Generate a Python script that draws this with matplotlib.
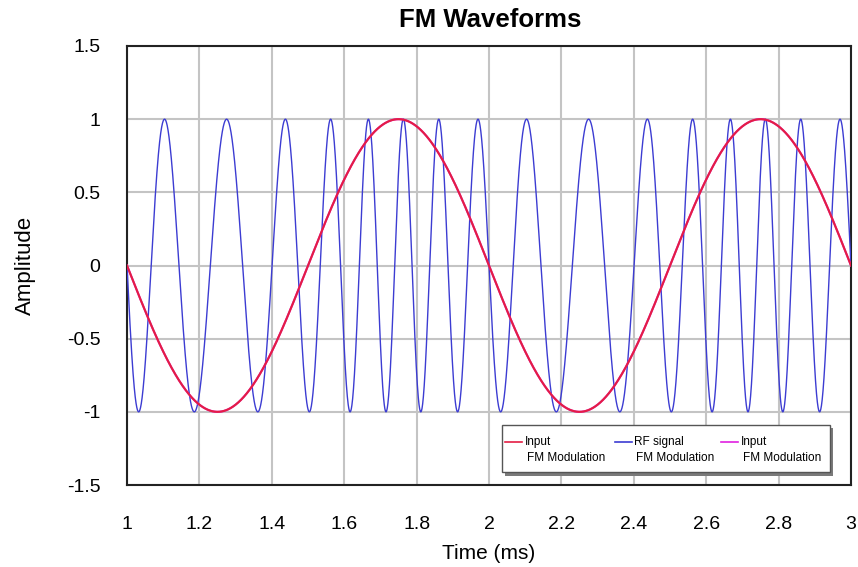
import numpy as np
import matplotlib
matplotlib.use("Agg")
import matplotlib.pyplot as plt
from matplotlib.patches import Rectangle
from matplotlib.lines import Line2D

# ---- data ----
time_range_ms = [1.0, 3.0]
carrier_freq_khz = 8.0       # RF carrier frequency
message_freq_khz = 1.0       # input (modulating) frequency
freq_deviation_khz = 2.45    # peak frequency deviation
input_amplitude = 1.0
series_names = ["Input\nFM Modulation", "RF signal\nFM Modulation", "Input\nFM Modulation"]
series_colors = ["#e41e44", "#3c3cd2", "#e020e0"]
x_ticks = [1, 1.2, 1.4, 1.6, 1.8, 2, 2.2, 2.4, 2.6, 2.8, 3]
x_tick_labels = ["1", "1.2", "1.4", "1.6", "1.8", "2", "2.2", "2.4", "2.6", "2.8", "3"]
y_ticks = [-1.5, -1, -0.5, 0, 0.5, 1, 1.5]
y_tick_labels = ["-1.5", "-1", "-0.5", "0", "0.5", "1", "1.5"]

t = np.linspace(time_range_ms[0], time_range_ms[1], 6001)
input_sig = -input_amplitude * np.sin(2 * np.pi * message_freq_khz * t)
phase = (2 * np.pi * carrier_freq_khz * (t - t[0])
         + freq_deviation_khz / message_freq_khz
         * (np.cos(2 * np.pi * message_freq_khz * t) - np.cos(2 * np.pi * message_freq_khz * t[0])))
rf_sig = -np.sin(phase)

plt.rcParams['font.family'] = ['Liberation Sans', 'DejaVu Sans']

fig = plt.figure(figsize=(8.58, 5.67), dpi=100)
ax = fig.add_axes([127 / 858, 1 - 485 / 567, (851 - 127) / 858, (485 - 46) / 567])

ax.plot(t, rf_sig, color=series_colors[1], lw=1.0, zorder=3)
ax.plot(t, input_sig, color=series_colors[2], lw=1.5, zorder=4)
ax.plot(t, input_sig, color=series_colors[0], lw=1.5, zorder=5)

ax.set_xlim(time_range_ms)
ax.set_ylim(-1.5, 1.5)
ax.set_xticks(x_ticks)
ax.set_xticklabels(x_tick_labels)
ax.set_yticks(y_ticks)
ax.set_yticklabels(y_tick_labels)
ax.tick_params(length=0, labelsize=14)
ax.tick_params(axis='y', pad=19)
ax.tick_params(axis='x', pad=22)
ax.grid(True, color="#c4c4c4", lw=1.5, zorder=0)
ax.set_axisbelow(True)
for s in ax.spines.values():
    s.set_color("#222222")
    s.set_linewidth(1.5)

ax.set_xlabel("Time (ms)", fontsize=15, labelpad=8)
ax.set_ylabel("Amplitude", fontsize=16, labelpad=22)
fig.text(490 / 858, 1 - 20 / 567, "FM Waveforms", ha="center", va="center",
         fontsize=18.5, fontweight="bold")

# ---- legend (drawn manually in pixel coordinates) ----
def px(x, y):
    return (x / 858, 1 - y / 567)

tr = fig.transFigure
shadow = Rectangle(px(505, 476), (833 - 505) / 858, (476 - 428) / 567, transform=tr,
                   facecolor="#7a7a7a", edgecolor="none", zorder=10)
box = Rectangle(px(502, 472), (830 - 502) / 858, (472 - 425) / 567, transform=tr,
                facecolor="white", edgecolor="#555555", lw=1.0, zorder=11)
fig.patches.extend([shadow, box])
entries = [(505, 525, 0), (615, 634, 1), (721, 741, 2)]
for lx, tx, i in entries:
    first, second = series_names[i].split("\n")
    fig.lines.append(Line2D([lx / 858, (lx + 17) / 858], [1 - 442 / 567] * 2,
                            transform=tr, color=series_colors[i], lw=1.2, zorder=12))
    fig.text(tx / 858, 1 - 442 / 567, first, fontsize=8.5, va="center", ha="left", zorder=12)
    fig.text((tx + 2) / 858, 1 - 458 / 567, second, fontsize=8.5, va="center", ha="left", zorder=12)

fig.savefig("out.png", dpi=100)
